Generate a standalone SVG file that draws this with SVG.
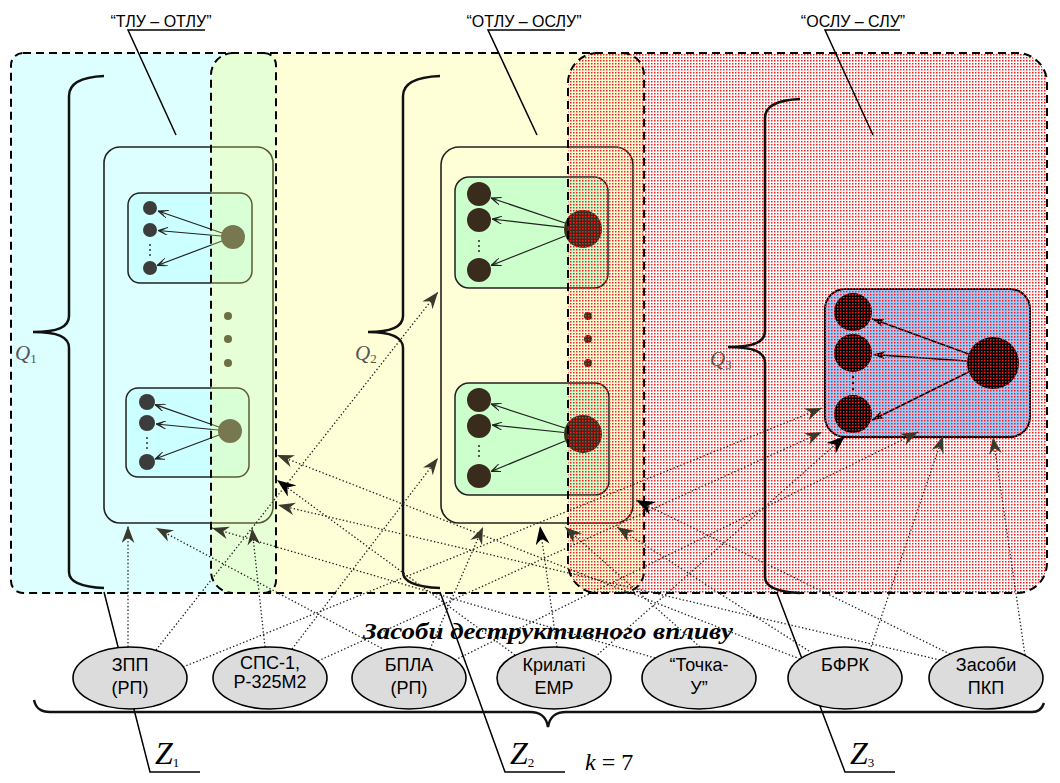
<svg xmlns="http://www.w3.org/2000/svg" width="1060" height="783" viewBox="0 0 1060 783">
<defs>
<pattern id="rd" width="3" height="3" patternUnits="userSpaceOnUse"><rect x="0" y="0" width="1.5" height="1.5" fill="#ff1a1a"/></pattern>
<marker id="ah" viewBox="0 0 16 12" refX="16" refY="6" markerWidth="17" markerHeight="13" markerUnits="userSpaceOnUse" orient="auto"><path d="M0,0 L16,6 L0,12 L5,6 Z" fill="#3a3a2c"/></marker>
<marker id="ahb" viewBox="0 0 16 12" refX="16" refY="6" markerWidth="19" markerHeight="14" markerUnits="userSpaceOnUse" orient="auto"><path d="M0,0 L16,6 L0,12 L5,6 Z" fill="#000"/></marker>
<marker id="ia" viewBox="0 0 10 8" refX="10" refY="4" markerWidth="10" markerHeight="8" markerUnits="userSpaceOnUse" orient="auto"><path d="M0,0 L10,4 L0,8 M3,1.5 L8,4 L3,6.5" fill="none" stroke="#222" stroke-width="1"/></marker>
<marker id="iab" viewBox="0 0 12 8" refX="12" refY="4" markerWidth="12" markerHeight="8" markerUnits="userSpaceOnUse" orient="auto"><path d="M0,0 L12,4 L0,8 L3,4 Z" fill="#000"/></marker>
</defs>
<style>
.lbl{font-family:"Liberation Sans",Arial,sans-serif;font-size:16px;fill:#000;text-anchor:middle}
.el{fill:#dcdcdc;stroke:#000;stroke-width:1.6}
.elt{font-family:"Liberation Sans",Arial,sans-serif;font-size:18px;text-anchor:middle;fill:#000}
.edge{fill:none;stroke:#000;stroke-width:2;stroke-dasharray:8 5}
.brace{fill:none;stroke:#111;stroke-width:2.5}
.lead{fill:none;stroke:#000;stroke-width:1.5}
.con{fill:none;stroke:#222;stroke-width:1.3;stroke-dasharray:1.4 2.2;marker-end:url(#ah)}
.conb{fill:none;stroke:#222;stroke-width:1.3;stroke-dasharray:1.4 2.2;marker-end:url(#ahb)}
.grp{fill:none;stroke:#222;stroke-width:1.6}
.cb{fill:#ccffff;stroke:#222;stroke-width:1.5}
.gb{fill:#ccffcc;stroke:#222;stroke-width:1.5}
.ia{stroke:#222;stroke-width:1.2;fill:none;marker-end:url(#ia)}
.iab{stroke:#000;stroke-width:1.5;fill:none;marker-end:url(#iab)}
.c1{fill:#3c3c3c}
.c1b{fill:#4a4a4a}
.c2{fill:#3a2c1c}
.c3{fill:#000}
.q{font-family:"Liberation Serif","Times New Roman",serif;font-style:italic;font-size:21px;fill:#555}
.z{font-family:"Liberation Serif","Times New Roman",serif;font-style:italic;font-size:32px;fill:#000}
.sub{font-style:normal;font-size:13px}
</style>
<rect width="1060" height="783" fill="#fff"/>

<g id="region-tlu-otlu">
<rect x="11" y="53" width="265" height="540" rx="12" fill="#ddffff"/>
</g>

<g id="node-tlu">
<rect class="grp" x="104" y="147" width="169" height="376" rx="16"/>
<rect class="cb" x="128" y="193" width="124" height="90" rx="12"/>
<circle class="c1" cx="150" cy="208" r="7"/>
<circle class="c1" cx="150" cy="230" r="7"/>
<circle class="c1" cx="150" cy="268" r="7"/>
<circle class="c1b" cx="233" cy="237" r="12"/>
<g fill="#333"><circle cx="150" cy="245" r="1"/><circle cx="150" cy="250" r="1"/><circle cx="150" cy="255" r="1"/></g>
<line class="ia" x1="222" y1="233" x2="158" y2="211"/>
<line class="ia" x1="221" y1="236" x2="158" y2="230.5"/>
<line class="ia" x1="222" y1="241" x2="157" y2="265.5"/>
<rect class="cb" x="126" y="388" width="123" height="89" rx="12"/>
<circle class="c1" cx="147" cy="402" r="8"/>
<circle class="c1" cx="147" cy="423" r="8"/>
<circle class="c1" cx="147" cy="462" r="8"/>
<circle class="c1b" cx="230" cy="431" r="12"/>
<g fill="#333"><circle cx="147" cy="438" r="1"/><circle cx="147" cy="443" r="1"/><circle cx="147" cy="448" r="1"/></g>
<line class="ia" x1="219" y1="427" x2="155" y2="404.6"/>
<line class="ia" x1="218" y1="430" x2="156" y2="424"/>
<line class="ia" x1="219" y1="435" x2="155" y2="459"/>
<g class="c1"><circle cx="228" cy="316" r="4"/><circle cx="228" cy="339" r="4"/><circle cx="228" cy="363" r="4"/></g>
</g>

<g id="region-otlu-oslu">
<rect x="211" y="53" width="433" height="540" rx="22" fill="#ffff66" fill-opacity="0.26"/>
</g>

<g id="node-otlu">
<rect class="grp" x="441" y="147" width="192" height="376" rx="18"/>
<rect class="gb" x="455" y="177" width="153" height="111" rx="14"/>
<circle class="c2" cx="479" cy="194" r="12"/>
<circle class="c2" cx="479" cy="220" r="12"/>
<circle class="c2" cx="479" cy="270" r="12"/>
<circle class="c2" cx="583" cy="229" r="19"/>
<g fill="#333"><circle cx="479" cy="241" r="1.1"/><circle cx="479" cy="246" r="1.1"/><circle cx="479" cy="251" r="1.1"/></g>
<line class="ia" x1="565" y1="223" x2="491" y2="198"/>
<line class="ia" x1="564" y1="227.4" x2="492" y2="219"/>
<line class="ia" x1="565" y1="236" x2="491" y2="265.5"/>
<rect class="gb" x="455" y="383" width="154" height="112" rx="14"/>
<circle class="c2" cx="479" cy="400" r="12"/>
<circle class="c2" cx="479" cy="426" r="12"/>
<circle class="c2" cx="479" cy="476" r="12"/>
<circle class="c2" cx="583" cy="434" r="19"/>
<g fill="#333"><circle cx="479" cy="446" r="1.1"/><circle cx="479" cy="451" r="1.1"/><circle cx="479" cy="456" r="1.1"/></g>
<line class="ia" x1="565" y1="428" x2="491" y2="404"/>
<line class="ia" x1="564" y1="432.5" x2="492" y2="425"/>
<line class="ia" x1="565" y1="441" x2="491" y2="471.5"/>
<g class="c2"><circle cx="588" cy="316" r="4"/><circle cx="588" cy="339" r="4"/><circle cx="588" cy="363" r="4"/></g>
</g>

<g id="node-oslu">
<rect x="825" y="289" width="205" height="148" rx="20" fill="#99ccff" stroke="#000" stroke-width="2"/>
<circle class="c3" cx="853" cy="312" r="19"/>
<circle class="c3" cx="853" cy="353" r="19"/>
<circle class="c3" cx="853" cy="414" r="19"/>
<circle class="c3" cx="993" cy="363" r="26"/>
<g fill="#000"><circle cx="853" cy="377" r="1.2"/><circle cx="853" cy="383" r="1.2"/><circle cx="853" cy="389" r="1.2"/></g>
<line class="iab" x1="968.6" y1="354" x2="872" y2="318.8"/>
<line class="iab" x1="967" y1="361" x2="873" y2="354.4"/>
<line class="iab" x1="968.6" y1="372" x2="872" y2="420"/>
</g>

<g id="region-oslu-slu">
<rect x="568" y="53" width="479" height="540" rx="30" fill="url(#rd)"/>
</g>

<g id="region-edges">
<path class="edge" d="M23,53 H1017 A30,30 0 0 1 1047,83 V563 A30,30 0 0 1 1017,593 H23 A12,12 0 0 1 11,581 V65 A12,12 0 0 1 23,53 Z"/>
<path class="edge" stroke-width="3" d="M264,53 A12,12 0 0 1 276,65 V581 A12,12 0 0 1 264,593"/>
<path class="edge" d="M233,53 A22,22 0 0 0 211,75 V571 A22,22 0 0 0 233,593"/>
<path class="edge" d="M622,53 A22,22 0 0 1 644,75 V571 A22,22 0 0 1 622,593"/>
<path class="edge" d="M598,53 A30,30 0 0 0 568,83 V563 A30,30 0 0 0 598,593"/>
</g>

<g id="braces">
<path class="brace" d="M104,76 C80,77 69,84 69,96 L69,316 C69,327 58,332 33,332 C58,332 69,337 69,348 L69,572 C69,582 80,587 104,588"/>
<path class="brace" d="M440,76 C416,77 403,84 403,96 L403,316 C403,327 392,332 368,332 C392,332 403,337 403,348 L403,572 C403,582 416,587 440,588"/>
<path class="brace" d="M800,99 C776,100 765,106 765,118 L765,331 C765,342 754,347 728,347 C754,347 765,352 765,363 L765,577 C765,587 776,592 800,593"/>
<text class="q" x="15" y="360">Q<tspan class="sub" dy="3">1</tspan></text>
<text class="q" x="355" y="360">Q<tspan class="sub" dy="3">2</tspan></text>
<text class="q" x="710" y="366">Q<tspan class="sub" dy="3">3</tspan></text>
</g>

<g id="labels">
<text class="lbl" x="161" y="27">“ТЛУ – ОТЛУ”</text>
<path class="lead" d="M205,30 H128 L176,135"/>
<text class="lbl" x="524" y="27">“ОТЛУ – ОСЛУ”</text>
<path class="lead" d="M565,30 H488 L537,135"/>
<text class="lbl" x="853" y="27">“ОСЛУ – СЛУ”</text>
<path class="lead" d="M900,30 H825 L873,135"/>
<text x="363" y="639" font-family="Liberation Serif,'Times New Roman',serif" font-weight="bold" font-style="italic" font-size="24" textLength="370" lengthAdjust="spacingAndGlyphs">Засоби деструктивного впливу</text>
</g>

<g id="connectors">
<line class="con" x1="128" y1="647" x2="128" y2="526"/>
<line class="con" x1="156" y1="650" x2="438" y2="292"/>
<line class="con" x1="183" y1="667" x2="822" y2="408"/>
<line class="con" x1="265" y1="647" x2="252" y2="528"/>
<line class="con" x1="292" y1="649" x2="438" y2="458"/>
<line class="con" x1="318" y1="661" x2="822" y2="432"/>
<line class="con" x1="385" y1="650" x2="156" y2="528"/>
<line class="con" x1="430" y1="649" x2="483" y2="527"/>
<line class="con" x1="455" y1="660" x2="918" y2="432"/>
<line class="conb" x1="557" y1="647" x2="540" y2="526"/>
<line class="conb" x1="595" y1="657" x2="845" y2="436"/>
<line class="conb" x1="515" y1="655" x2="277" y2="480"/>
<line class="con" x1="655" y1="658" x2="212" y2="528"/>
<line class="con" x1="700" y1="647" x2="565" y2="527"/>
<line class="con" x1="800" y1="659" x2="277" y2="455"/>
<line class="con" x1="812" y1="653" x2="617" y2="527"/>
<line class="con" x1="870" y1="650" x2="943" y2="436"/>
<line class="con" x1="940" y1="660" x2="278" y2="505"/>
<line class="conb" x1="950" y1="654" x2="636" y2="500"/>
<line class="con" x1="1025" y1="655" x2="993" y2="437"/>
</g>

<g id="z-leaders">
<path class="lead" d="M104,592 L150,772 H200"/>
<path class="lead" d="M440,592 L505,772 H565"/>
<path class="lead" d="M777,593 L845,772 H895"/>
</g>

<g id="src-zpp"><ellipse class="el" cx="130" cy="678" rx="57" ry="31"/><text class="elt" x="130" y="671">ЗПП</text><text class="elt" x="130" y="694">(РП)</text></g>
<g id="src-sps"><ellipse class="el" cx="270" cy="678" rx="57" ry="31"/><text class="elt" x="270" y="669">СПС-1,</text><text class="elt" x="270" y="688">Р-325М2</text></g>
<g id="src-bpla"><ellipse class="el" cx="409" cy="678" rx="57" ry="31"/><text class="elt" x="409" y="671">БПЛА</text><text class="elt" x="409" y="694">(РП)</text></g>
<g id="src-kryl"><ellipse class="el" cx="554" cy="678" rx="57" ry="31"/><text class="elt" x="554" y="671">Крилаті</text><text class="elt" x="554" y="694">ЕМР</text></g>
<g id="src-tochka"><ellipse class="el" cx="699" cy="678" rx="57" ry="31"/><text class="elt" x="699" y="671">“Точка-</text><text class="elt" x="699" y="694">У”</text></g>
<g id="src-bfrk"><ellipse class="el" cx="845" cy="678" rx="57" ry="31"/><text class="elt" x="845" y="671">БФРК</text></g>
<g id="src-pkp"><ellipse class="el" cx="986" cy="678" rx="57" ry="31"/><text class="elt" x="986" y="671">Засоби</text><text class="elt" x="986" y="694">ПКП</text></g>

<g id="bottom-brace">
<path class="brace" stroke-width="2" d="M34,700 C36,709 41,712 50,712 L530,712 C540,712 546,716 548,727 C550,716 556,712 566,712 L1032,712 C1038,712 1042,709 1044,703"/>
<text class="z" x="155" y="764">Z<tspan class="sub" dy="3">1</tspan></text>
<text class="z" x="510" y="764">Z<tspan class="sub" dy="3">2</tspan></text>
<text class="z" x="850" y="764">Z<tspan class="sub" dy="3">3</tspan></text>
<text x="585" y="770" font-family="Liberation Serif,'Times New Roman',serif" font-size="24"><tspan font-style="italic">k</tspan> = 7</text>
</g>
</svg>
